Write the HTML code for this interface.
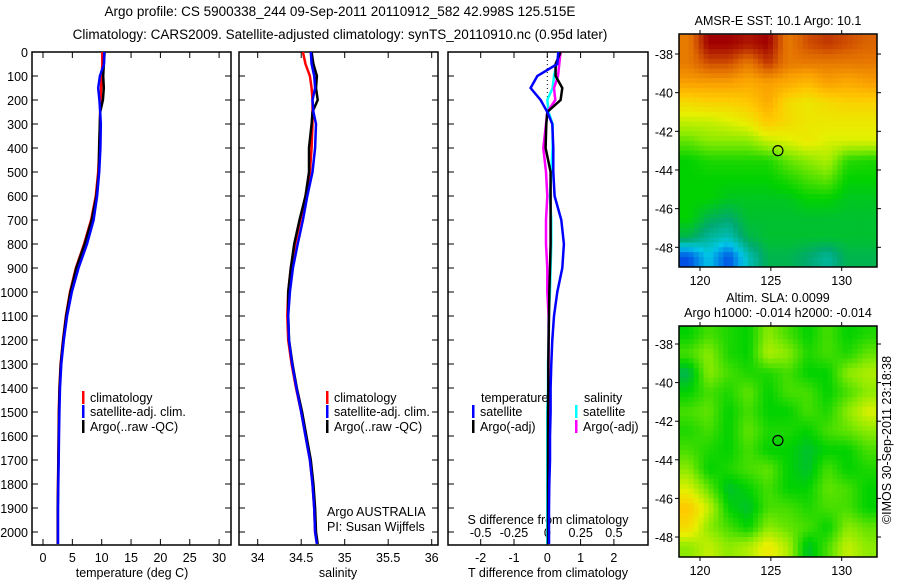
<!DOCTYPE html>
<html><head><meta charset="utf-8"><style>
html,body{margin:0;padding:0;background:#fff;}
svg{display:block;font-family:"Liberation Sans",sans-serif;font-size:12.5px;}
</style></head><body>
<svg id="s" width="900" height="580" viewBox="0 0 900 580">
<text x="340" y="16" text-anchor="middle" font-size="13.5">Argo profile: CS 5900338_244 09-Sep-2011 20110912_582 42.998S 125.515E</text>
<text x="340" y="39" text-anchor="middle" font-size="13.5">Climatology: CARS2009. Satellite-adjusted climatology: synTS_20110910.nc (0.95d later)</text>
<g id="g"></g>
</svg>
<script>
const depths=[0,50,100,150,200,250,300,400,500,600,700,800,900,1000,1100,1200,1300,1400,1500,1600,1700,1800,1900,2000,2050];
const climT=[10.1,10.1,10.0,9.9,9.8,9.75,9.7,9.6,9.4,9.0,8.2,7.0,5.6,4.6,3.9,3.4,3.0,2.8,2.7,2.65,2.6,2.55,2.5,2.5,2.5];
const satTdiff=[0.33,0.3,-0.3,-0.5,-0.2,0,0.15,0.18,0.18,0.22,0.42,0.5,0.45,0.3,0.2,0.15,0.12,0.1,0.1,0.08,0.08,0.06,0.05,0.05,0.05];
const argoTdiff=[0.4,0.25,0.25,0.45,0.4,0,-0.03,-0.05,0.1,0.1,0.1,0.1,0.08,0.06,0.05,0.04,0.03,0.03,0.02,0.02,0.02,0.02,0.02,0.02,0.02];
const climS=[34.52,34.55,34.6,34.62,34.63,34.63,34.63,34.62,34.6,34.55,34.49,34.43,34.38,34.35,34.34,34.35,34.39,34.44,34.5,34.55,34.6,34.63,34.65,34.66,34.68];
const satSdiff=[0.09,0.07,0.05,0.04,0,0.01,0.04,0.04,0.03,0.02,0.03,0.03,0.025,0.02,0.01,0.01,0.005,0.005,0,0,0,0,0,0,0];
const argoSdiff=[0.1,0.09,0.08,0.05,0.06,0,-0.01,-0.03,-0.01,0,-0.01,-0.01,0,0,0.01,0.01,0.01,0.01,0.01,0.01,0.01,0.01,0.01,0.01,0.01];
const depthTicks=[0,100,200,300,400,500,600,700,800,900,1000,1100,1200,1300,1400,1500,1600,1700,1800,1900,2000];
const tempTicks=[0,5,10,15,20,25,30];
const salTicks=[34,34.5,35,35.5,36];
const tdTicks=[-2,-1,0,1,2];
const sdTicks=[-0.5,-0.25,0,0.25,0.5];
const sdTickLabels=["-0.5","-0.25","0","0.25","0.5"];
const lonTicks=[120,125,130];
const latTicks=[-38,-40,-42,-44,-46,-48];
const sstGrid=[
[0.85,0.97,0.97,0.95,0.97,0.85,0.9,0.92,0.9,0.88],
[0.85,0.9,0.9,0.85,0.92,0.85,0.85,0.85,0.85,0.85],
[0.8,0.8,0.8,0.78,0.8,0.78,0.75,0.8,0.78,0.8],
[0.68,0.7,0.7,0.72,0.78,0.68,0.65,0.68,0.7,0.7],
[0.6,0.6,0.62,0.65,0.72,0.68,0.65,0.65,0.65,0.65],
[0.52,0.55,0.55,0.55,0.6,0.62,0.65,0.62,0.62,0.62],
[0.45,0.47,0.47,0.47,0.47,0.52,0.55,0.58,0.48,0.47],
[0.45,0.45,0.45,0.45,0.45,0.47,0.5,0.52,0.45,0.45],
[0.45,0.45,0.43,0.43,0.43,0.43,0.45,0.45,0.43,0.43],
[0.45,0.4,0.38,0.42,0.42,0.42,0.42,0.42,0.42,0.42],
[0.4,0.35,0.33,0.4,0.42,0.42,0.42,0.42,0.42,0.42],
[0.2,0.3,0.2,0.33,0.4,0.4,0.38,0.35,0.4,0.4]];
const slaGrid=[
[0.45,0.5,0.47,0.45,0.55,0.5,0.45,0.5,0.45,0.47],
[0.5,0.55,0.47,0.45,0.58,0.55,0.47,0.5,0.47,0.52],
[0.4,0.55,0.5,0.47,0.47,0.5,0.45,0.45,0.55,0.58],
[0.45,0.5,0.47,0.52,0.45,0.5,0.5,0.45,0.5,0.55],
[0.5,0.52,0.45,0.5,0.45,0.45,0.5,0.47,0.55,0.62],
[0.47,0.5,0.45,0.52,0.47,0.47,0.45,0.5,0.52,0.55],
[0.5,0.47,0.45,0.5,0.45,0.45,0.42,0.45,0.45,0.5],
[0.55,0.45,0.47,0.5,0.52,0.45,0.42,0.5,0.45,0.47],
[0.62,0.52,0.42,0.45,0.5,0.45,0.45,0.52,0.5,0.45],
[0.72,0.6,0.45,0.42,0.5,0.5,0.47,0.5,0.5,0.45],
[0.68,0.55,0.5,0.45,0.55,0.52,0.5,0.45,0.55,0.52],
[0.55,0.6,0.55,0.58,0.65,0.58,0.42,0.5,0.6,0.55]];

const NS='http://www.w3.org/2000/svg';
const G=document.getElementById('g');
function el(tag,attrs,parent,text){const e=document.createElementNS(NS,tag);for(const k in attrs)e.setAttribute(k,attrs[k]);if(text!==undefined)e.textContent=text;(parent||G).appendChild(e);return e;}
const TOP=52,BOT=545;
const yD=d=>TOP+d*0.24;
function panel(name,x0,x1){
 const g=el('g',{});
 
 
 el('rect',{x:x0,y:TOP,width:x1-x0,height:BOT-TOP,fill:'none',stroke:'#000','stroke-width':1.5},g);
 depthTicks.forEach(d=>{const y=yD(d);el('line',{x1:x0,x2:x0+6,y1:y,y2:y,stroke:'#000'},g);el('line',{x1:x1-6,x2:x1,y1:y,y2:y,stroke:'#000'},g);});
 return g;
}
function xTicks(g,ticks,labels,fx,y,bottomTicks){
 ticks.forEach((t,i)=>{const x=fx(t);
  if(bottomTicks){el('line',{x1:x,x2:x,y1:TOP,y2:TOP+6,stroke:'#000'},g);el('line',{x1:x,x2:x,y1:BOT-6,y2:BOT,stroke:'#000'},g);}
  const tx=el('text',{x:x,y:y,'text-anchor':'middle'},g,labels[i]);
  
  
 });
}
function line(g,xs,color,name,w){
 const pts=depths.map((d,i)=>xs[i]==null?null:xs[i].toFixed(1)+','+yD(d).toFixed(1)).filter(p=>p).join(' ');
 const p=el('polyline',{points:pts,fill:'none',stroke:color,'stroke-width':w||2.5},g);
 
 
}
function legendItem(g,x,y,color,label){
 el('rect',{x:x,y:y-11,width:2.5,height:13,fill:color},g);
 const t=el('text',{x:x+8,y:y},g,label);
 
 
}
depthTicks.forEach(d=>{const t=el('text',{x:28,y:yD(d)+5,'text-anchor':'end'},G,String(d));
 
 });

const xT=v=>43+v*5.87;
const p1=panel('temperature-panel',32,231);
xTicks(p1,tempTicks,tempTicks.map(String),xT,562,true);
const t1=el('text',{x:132,y:577,'text-anchor':'middle'},p1,'temperature (deg C)');

line(p1,climT.map(xT),'#f00','temperature-climatology');
line(p1,climT.map((v,i)=>xT(v+argoTdiff[i])),'#000','temperature-argo');
line(p1,climT.map((v,i)=>xT(v+satTdiff[i])),'#00f','temperature-satellite');
legendItem(p1,82,402,'#f00','climatology');
legendItem(p1,82,416,'#00f','satellite-adj. clim.');
legendItem(p1,82,431,'#000','Argo(..raw -QC)');

const xS=v=>257.7+(v-34)*87;
const p2=panel('salinity-panel',239,438);
xTicks(p2,salTicks,salTicks.map(String),xS,562,true);
const t2=el('text',{x:338,y:577,'text-anchor':'middle'},p2,'salinity');

line(p2,climS.map(xS),'#f00','salinity-climatology');
line(p2,climS.map((v,i)=>xS(v+argoSdiff[i])),'#000','salinity-argo');
line(p2,climS.map((v,i)=>xS(v+satSdiff[i])),'#00f','salinity-satellite');
legendItem(p2,326,402,'#f00','climatology');
legendItem(p2,326,416,'#00f','satellite-adj. clim.');
legendItem(p2,326,431,'#000','Argo(..raw -QC)');
el('text',{x:327,y:516},p2,'Argo AUSTRALIA');
el('text',{x:327,y:531},p2,'PI: Susan Wijffels');

const xTD=v=>547.3+v*33.3;
const xSD=v=>547.3+v*133.3;
const p3=panel('difference-panel',448,648);
xTicks(p3,tdTicks,tdTicks.map(String),xTD,562,true);
xTicks(p3,sdTicks,sdTickLabels,xSD,537,false);
el('text',{x:548,y:524,'text-anchor':'middle'},p3,'S difference from climatology');
const t3=el('text',{x:548,y:577,'text-anchor':'middle'},p3,'T difference from climatology');

el('line',{x1:547.3,x2:547.3,y1:TOP,y2:yD(250),stroke:'#000','stroke-dasharray':'1,3'},p3);
line(p3,satSdiff.map(xSD),'#0ff','salinity-diff-satellite');
line(p3,argoSdiff.map(xSD),'#f0f','salinity-diff-argo');
line(p3,argoTdiff.map(xTD),'#000','temperature-diff-argo');
line(p3,satTdiff.map(xTD),'#00f','temperature-diff-satellite');
el('text',{x:481,y:402},p3,'temperature');
legendItem(p3,472,416,'#00f','satellite');
legendItem(p3,472,431,'#000','Argo(-adj)');
el('text',{x:584,y:402},p3,'salinity');
legendItem(p3,575,416,'#0ff','satellite');
legendItem(p3,575,431,'#f0f','Argo(-adj)');

function cmap(v){
 const stops=[[0.1,[0,40,200]],[0.2,[0,80,230]],[0.3,[0,200,230]],[0.38,[0,170,110]],[0.45,[0,210,0]],[0.55,[140,235,0]],[0.63,[230,240,0]],[0.72,[255,200,0]],[0.8,[250,160,0]],[0.88,[220,100,0]],[0.97,[160,0,0]]];
 if(v<=stops[0][0])return 'rgb('+stops[0][1]+')';
 for(let i=1;i<stops.length;i++){if(v<=stops[i][0]){const a=stops[i-1],b=stops[i],f=(v-a[0])/(b[0]-a[0]);return 'rgb('+a[1].map((c,k)=>Math.round(c+(b[1][k]-c)*f)).join(',')+')';}}
 return 'rgb('+stops[stops.length-1][1]+')';
}
// bilinear sampling of grid values for smoother display
function sample(grid,fr,fc){
 const R=grid.length,C=grid[0].length;
 const r=Math.min(Math.max(fr-0.5,0),R-1),c=Math.min(Math.max(fc-0.5,0),C-1);
 const r0=Math.floor(r),c0=Math.floor(c),r1=Math.min(r0+1,R-1),c1=Math.min(c0+1,C-1);
 const a=r-r0,b=c-c0;
 return grid[r0][c0]*(1-a)*(1-b)+grid[r0][c1]*(1-a)*b+grid[r1][c0]*a*(1-b)+grid[r1][c1]*a*b;
}
function map(name,top,bot,grid,lat38y,lat48y,titles){
 const g=el('g',{});
 
 
 const L=679,R=877;
 const xL=lon=>700+(lon-120)*14.17;
 const yL=lat=>lat38y+(lat+38)*(lat38y-lat48y)/10;
 const rows=grid.length,cols=grid[0].length,SUB=4;
 const lon0=118.5,lon1=132.5,la0=-37,la1=-49;
 const cg=el('g',{},g);
 
 
 for(let r=0;r<rows*SUB;r++)for(let c=0;c<cols*SUB;c++){
  const v=sample(grid,(r+0.5)/SUB,(c+0.5)/SUB);
  const x=xL(lon0+(lon1-lon0)*c/(cols*SUB)),x2=xL(lon0+(lon1-lon0)*(c+1)/(cols*SUB));
  const y=yL(la0+(la1-la0)*r/(rows*SUB)),y2=yL(la0+(la1-la0)*(r+1)/(rows*SUB));
  const x0=Math.max(L,x),y0=Math.max(top,y),w=Math.min(R,x2)-x0,h=Math.min(bot,y2)-y0;
  if(w<=0||h<=0)continue;
  el('rect',{x:x0,y:y0,width:w+0.5,height:h+0.5,fill:cmap(v)},cg);
 }
 el('rect',{x:L,y:top,width:R-L,height:bot-top,fill:'none',stroke:'#000','stroke-width':1.5},g);
 lonTicks.forEach(l=>{const x=xL(l);el('line',{x1:x,x2:x,y1:top-4,y2:top,stroke:'#000'},g);el('line',{x1:x,x2:x,y1:bot,y2:bot+4,stroke:'#000'},g);el('text',{x:x,y:bot+18,'text-anchor':'middle'},g,String(l));});
 latTicks.forEach(l=>{const y=yL(l);el('line',{x1:L-4,x2:L,y1:y,y2:y,stroke:'#000'},g);el('line',{x1:R,x2:R+4,y1:y,y2:y,stroke:'#000'},g);el('text',{x:L-6,y:y+5,'text-anchor':'end'},g,String(l));});
 const c=el('circle',{cx:xL(125.5),cy:yL(-43),r:5,fill:'none',stroke:'#000','stroke-width':1.2},g);
 
 
 titles.forEach((t,i)=>el('text',{x:778,y:top-9-(titles.length-1-i)*15,'text-anchor':'middle'},g,t));
}
map('sst-map',34,267,sstGrid,54,247.3,['AMSR-E SST: 10.1 Argo: 10.1']);
map('sla-map',326,557,slaGrid,344,537,['Altim. SLA: 0.0099','Argo h1000: -0.014 h2000: -0.014']);
const cp=el('text',{x:0,y:0,'text-anchor':'middle',transform:'translate(891,440) rotate(-90)'},G,'©IMOS 30-Sep-2011 23:18:38');


</script>
</body></html>
